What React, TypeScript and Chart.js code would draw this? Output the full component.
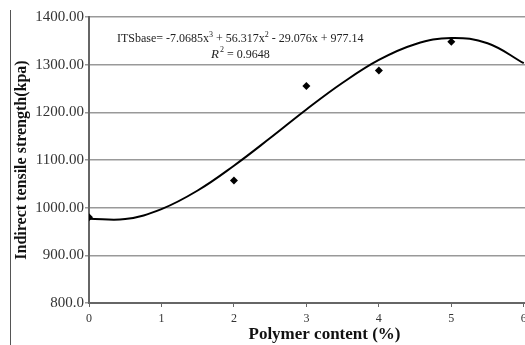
import React, { useEffect, useRef } from "react";
import { Chart, registerables } from "chart.js";

Chart.register(...registerables);

// Measured data points (polymer content %, ITS kPa)
const polymerContent = [0, 2, 3, 4, 5];
const itsValues = [980, 1057, 1255, 1288, 1348];

// Trend curve
const trendX = [0, 0.5, 1, 1.5, 2, 2.5, 3, 3.5, 4, 4.5, 5, 5.5, 6];
const trendY = [977, 976, 997, 1036, 1088, 1146, 1206, 1262, 1310, 1343, 1356, 1345, 1303];

const yTicks = [800, 900, 1000, 1100, 1200, 1300, 1400];
const xTitle = "Polymer content (%)";
const yTitle = "Indirect tensile strength(kpa)";
const equationParts = [
  { t: "ITSbase= -7.0685x", sup: false },
  { t: "3", sup: true },
  { t: " + 56.317x", sup: false },
  { t: "2", sup: true },
  { t: " - 29.076x + 977.14", sup: false },
];
const r2Text = " = 0.9648";

const SERIF = '"Liberation Serif", "Times New Roman", serif';

const eqPlugin = {
  id: "eqText",
  afterDraw(chart: any) {
    const ctx = chart.ctx;
    ctx.save();
    ctx.fillStyle = "#222";
    ctx.textBaseline = "alphabetic";
    const x0 = 117;
    let x = x0;
    const y = 42;
    for (const p of equationParts) {
      ctx.font = p.sup ? `8px ${SERIF}` : `12px ${SERIF}`;
      ctx.fillText(p.t, x, p.sup ? y - 5 : y);
      x += ctx.measureText(p.t).width;
    }
    const center = (x0 + x) / 2;
    // measure R² row
    ctx.font = `italic 13px ${SERIF}`;
    const wR = ctx.measureText("R").width + 1;
    ctx.font = `8px ${SERIF}`;
    const w2 = ctx.measureText("2").width;
    ctx.font = `12px ${SERIF}`;
    const wT = ctx.measureText(r2Text).width;
    let rx = center - (wR + w2 + wT) / 2;
    const ry = 58;
    ctx.font = `italic 13px ${SERIF}`;
    ctx.fillText("R", rx, ry);
    rx += wR;
    ctx.font = `8px ${SERIF}`;
    ctx.fillText("2", rx, ry - 6);
    rx += w2;
    ctx.font = `12px ${SERIF}`;
    ctx.fillText(r2Text, rx, ry);
    ctx.restore();
  },
};

export default function App() {
  const ref = useRef<HTMLCanvasElement>(null);
  useEffect(() => {
    if (!ref.current) return;
    const chart = new Chart(ref.current, {
      type: "scatter",
      data: {
        datasets: [
          {
            type: "line",
            label: "trend",
            data: trendX.map((x, i) => ({ x, y: trendY[i] })),
            borderColor: "#000",
            borderWidth: 2,
            pointRadius: 0,
            tension: 0.4,
            fill: false,
          },
          {
            label: "ITS",
            data: polymerContent.map((x, i) => ({ x, y: itsValues[i] })),
            pointStyle: "rectRot",
            pointRadius: 4,
            backgroundColor: "#000",
            borderColor: "#000",
            borderWidth: 0,
          },
        ],
      },
      options: {
        responsive: false,
        animation: false,
        devicePixelRatio: 1,
        layout: { padding: { left: 0, top: 17, right: 0, bottom: 0 } },
        plugins: { legend: { display: false }, tooltip: { enabled: false } },
        scales: {
          x: {
            type: "linear",
            min: 0,
            max: 6.5,
            afterBuildTicks: (s: any) => {
              s.ticks = s.ticks.filter((t: any) => Number.isInteger(t.value));
            },
            afterFit: (s: any) => {
              s.height = 42;
            },
            ticks: {
              stepSize: 1,
              color: "#333",
              font: { family: SERIF, size: 12 },
              padding: 5,
            },
            grid: {
              drawOnChartArea: false,
              drawTicks: true,
              tickLength: 4,
              color: "#666",
            },
            border: { color: "#666", width: 2 },
            title: {
              display: true,
              text: xTitle,
              color: "#111",
              font: { family: SERIF, size: 17, weight: "bold" },
              padding: { top: 0, bottom: 0 },
            },
          },
          y: {
            min: 800,
            max: 1400,
            afterBuildTicks: (s: any) => {
              s.ticks = yTicks.map((v) => ({ value: v }));
            },
            afterFit: (s: any) => {
              s.width = 89;
            },
            ticks: {
              color: "#333",
              font: { family: SERIF, size: 15 },
              padding: 1,
              callback: (v: any) => (v === 800 ? "800.0" : Number(v).toFixed(2)),
            },
            grid: {
              color: "#999",
              lineWidth: 1.5,
              tickLength: 4,
            },
            border: { color: "#666", width: 2 },
            title: {
              display: true,
              text: yTitle,
              color: "#111",
              font: { family: SERIF, size: 16, weight: "bold" },
              padding: { top: 12, bottom: 0 },
            },
          },
        },
      },
      plugins: [eqPlugin],
    } as any);
    return () => chart.destroy();
  }, []);

  return (
    <div
      style={{
        position: "fixed",
        left: 0,
        top: 0,
        width: 525,
        height: 345,
        overflow: "hidden",
        background: "#fff",
      }}
    >
      <canvas
        ref={ref}
        width={564}
        height={345}
        style={{ position: "absolute", left: 0, top: 0, width: 564, height: 345 }}
      />
      <div
        style={{
          position: "absolute",
          left: 10,
          top: 10,
          width: 0,
          height: 340,
          borderLeft: "1.5px solid #555",
        }}
      />
    </div>
  );
}
